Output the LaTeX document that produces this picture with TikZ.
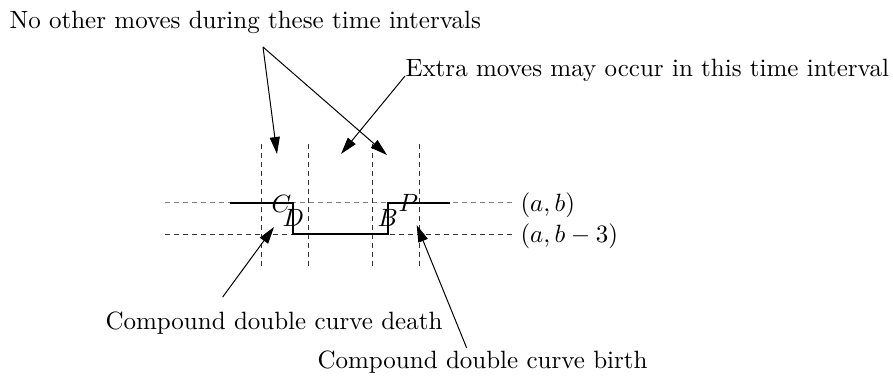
\documentclass[tikz,border=0pt]{standalone}
\usepackage{amsmath,amssymb}
\usetikzlibrary{arrows.meta,positioning}

\begin{document}
\begin{tikzpicture}[x=0.4pt, y=-0.4pt,
    note/.style={inner sep=0pt, anchor=base west},
    guide/.style={dash pattern=on 2pt off 1.6pt, black!80},
    curve/.style={line width=0.8pt},
    pointer/.style={-{Triangle[length=6.8pt, width=4pt]}},
]
\useasboundingbox (0,0) rectangle (893,375);

% Level lines and time lines
\draw[guide, black!50] (165,202) -- (513,202);
\draw[guide] (165,234) -- (513,234);
\foreach \x in {261,308,372,419}
    \draw[guide] (\x,144) -- (\x,266);

% The double curve
\draw[curve] (230,202.5) -- (292.7,202.5) -- (292.7,234)
    -- (388,234) -- (388,202.5) -- (450,202.5);

% Corner letters
\node[note] (C) at (271,212) {$C$};
\node[note] (D) at (282,226.7) {$D$};
\node[note] (B) at (377,226.7) {$B$};
\node[note] (P) at (398,211.7) {$P$};

% Level labels
\node[note] (ab) at (520,211) {$(a,b)$};
\node[note] (ab3) at (520,242) {$(a,b-3)$};

% Texts
\node[note] (nomoves) at (9,28) {No other moves during these time intervals};
\node[note] (extra) at (405,76) {Extra moves may occur in this time interval};
\node[note] (death) at (105,329) {Compound double curve death};
\node[note] (birth) at (317,368) {Compound double curve birth};

% Pointer ends
\coordinate (apex) at (263,47);
\coordinate (leftgap) at (277,154);
\coordinate (rightgap) at (387,155);
\coordinate (midgap) at (341,154);
\coordinate (deathfoot) at (222.7,297);
\coordinate (deathtip) at (274,227);
\coordinate (birthfoot) at (466.7,348);
\coordinate (birthtip) at (416.7,225);

% Pointers
\draw[pointer] (apex) -- (leftgap);
\draw[pointer] (apex) -- (rightgap);
\draw[pointer] (extra.base west) -- (midgap);
\draw[pointer] (deathfoot) -- (deathtip);
\draw[pointer] (birthfoot) -- (birthtip);
\end{tikzpicture}
\end{document}
